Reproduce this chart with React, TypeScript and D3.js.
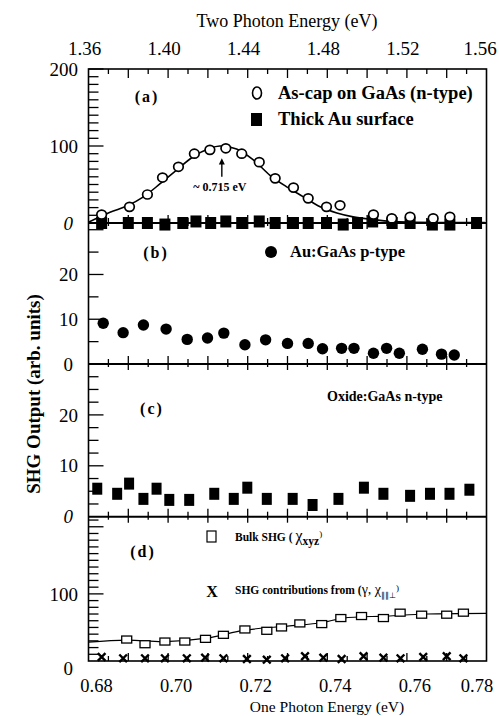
import React, { useEffect, useRef } from "react";
import * as d3 from "d3";

// panel (a): As-cap on GaAs (n-type), open circles + fit
const asCapX = [0.6833, 0.6903, 0.6948, 0.6986, 0.7026, 0.7066, 0.7105, 0.7145, 0.7185, 0.7229, 0.7269, 0.7315, 0.7352, 0.7398, 0.7432, 0.7516, 0.7562, 0.7608, 0.7666, 0.7708];
const asCapY = [11, 21, 37, 59, 73, 90, 95, 97, 90, 79, 58, 46, 32, 21, 23, 11, 6, 8, 6, 8];
const asCapFitX = [0.68, 0.6854, 0.6896, 0.6938, 0.698, 0.7022, 0.7063, 0.7105, 0.713, 0.7172, 0.7214, 0.7256, 0.7298, 0.734, 0.7382, 0.7424, 0.7465, 0.7507, 0.7566, 0.7796];
const asCapFitY = [1, 14, 22, 34, 51, 69, 86, 97, 100, 96, 82, 62, 47, 34, 21, 13, 8, 5, 2, 0.5];
// panel (a): thick Au surface, filled squares
const auThickX = [0.6833, 0.69, 0.6948, 0.6992, 0.7037, 0.707, 0.7107, 0.7145, 0.7185, 0.7229, 0.7269, 0.7315, 0.7352, 0.7398, 0.744, 0.7476, 0.7514, 0.7563, 0.7608, 0.7664, 0.7708, 0.7775];
const auThickY = [0, 0, 0, -2, 0, 2, 0, 2, 0, 2, 0, 0, 0, 0, -2, 0, 2, 0, 0, -2, -2, 0];

// panel (b): Au:GaAs p-type
const auGaAsX = [0.6837, 0.6887, 0.6938, 0.6995, 0.7048, 0.7099, 0.714, 0.7193, 0.7245, 0.73, 0.7352, 0.7388, 0.7436, 0.7467, 0.7516, 0.7549, 0.7581, 0.7639, 0.7687, 0.7719];
const auGaAsY = [9.1, 7.0, 8.7, 7.8, 5.5, 5.8, 6.9, 4.3, 5.4, 4.6, 4.6, 3.4, 3.5, 3.5, 2.4, 3.5, 2.4, 3.3, 2.2, 2.0];

// panel (c): Oxide:GaAs n-type
const oxideX = [0.6822, 0.6872, 0.6902, 0.6938, 0.6971, 0.7003, 0.7053, 0.7116, 0.7165, 0.7199, 0.7248, 0.7313, 0.7363, 0.7428, 0.7492, 0.7541, 0.7608, 0.7658, 0.7707, 0.7757];
const oxideY = [5.5, 4.5, 6.5, 3.5, 5.5, 3.3, 3.3, 4.5, 3.5, 5.7, 3.5, 3.5, 2.3, 3.5, 5.7, 4.5, 4.1, 4.5, 4.5, 5.3];

// panel (d): bulk SHG (open squares + fit) and surface contributions (crosses)
const bulkX = [0.6896, 0.6942, 0.6992, 0.7042, 0.7094, 0.7139, 0.7193, 0.7248, 0.7285, 0.7331, 0.7386, 0.7434, 0.7486, 0.7541, 0.7583, 0.7637, 0.77, 0.7742];
const bulkY = [32, 25, 29, 29, 33, 39, 47, 45, 50, 56, 55, 64, 67, 64, 72, 69, 69, 72];
const bulkFitX = [0.68, 0.6896, 0.6992, 0.7097, 0.7193, 0.73, 0.7386, 0.744, 0.755, 0.765, 0.78];
const bulkFitY = [28, 31, 29, 34, 46, 52, 57, 64, 67, 70, 71];
const contribX = [0.6833, 0.6887, 0.6942, 0.6992, 0.7047, 0.7093, 0.7139, 0.7198, 0.7248, 0.7294, 0.7344, 0.739, 0.7436, 0.7491, 0.7541, 0.7584, 0.7641, 0.77, 0.7742];
const contribY = [6, 4, 4, 4, 4, 5, 4, 3, 2, 4, 7, 5, 3, 7, 5, 4, 6, 7, 4];

// axes
const oneTicks = [0.68, 0.7, 0.72, 0.74, 0.76, 0.78];
const twoTicks = [1.36, 1.4, 1.44, 1.48, 1.52, 1.56];
const aLabels = [0, 100, 200];
const bLabels = [0, 10, 20];
const cLabels = [0, 10, 20];
const dLabels = [0, 100];

const W = 499;
const H = 716;
const FONT = "'Liberation Serif', 'Times New Roman', serif";

const App = () => {
  const ref = useRef<SVGSVGElement>(null);

  useEffect(() => {
    const svg = d3.select(ref.current);
    svg.selectAll("*").remove();

    const left = 88.5;
    const right = 486.5;
    const x = d3.scaleLinear().domain([0.68, 0.78]).range([left, right]);
    const x2 = d3.scaleLinear().domain([1.36, 1.56]).range([left, right]);

    const panels = [
      { y: d3.scaleLinear().domain([0, 200]).range([223, 69]), step: 10, major: 100, labels: aLabels, italic: true },
      { y: d3.scaleLinear().domain([0, 31.5]).range([364, 223]), step: 5, major: 10, labels: bLabels, italic: false },
      { y: d3.scaleLinear().domain([0, 30]).range([516.7, 364]), step: 2.5, major: 10, labels: cLabels, italic: true },
      { y: d3.scaleLinear().domain([0, 215]).range([661, 516.7]), step: 10, major: 100, labels: dLabels, italic: false },
    ];
    const top = 69;
    const bottom = 661;

    const g = svg.append("g").attr("font-family", FONT).attr("fill", "#000");

    // frame
    g.append("rect")
      .attr("x", left).attr("y", top)
      .attr("width", right - left).attr("height", bottom - top)
      .attr("fill", "none").attr("stroke", "#000").attr("stroke-width", 1.6);

    const xMinor = d3.range(0, 21).map((i) => 0.68 + i * 0.005);

    panels.forEach((p, pi) => {
      const [y0, y1] = p.y.range();
      if (pi > 0) {
        g.append("line").attr("x1", left).attr("x2", right).attr("y1", y1).attr("y2", y1)
          .attr("stroke", "#000").attr("stroke-width", 2);
      }
      // y ticks
      const d1 = p.y.domain()[1];
      const n = Math.floor(d1 / p.step + 1e-6);
      for (let i = 1; i <= n; i++) {
        const v = i * p.step;
        const isMajor = Math.abs(v / p.major - Math.round(v / p.major)) < 1e-6;
        g.append("line")
          .attr("x1", left).attr("x2", left + (isMajor ? 15 : 10))
          .attr("y1", p.y(v)).attr("y2", p.y(v))
          .attr("stroke", "#000").attr("stroke-width", 1.3);
      }
      // y labels
      p.labels.forEach((v) => {
        const ital = v === 0 && p.italic;
        g.append("text")
          .attr("x", v === 0 ? 73 : 78)
          .attr("y", p.y(v) + (v === 0 && pi === 3 ? 7 : 0))
          .attr("dy", "0.35em")
          .attr("text-anchor", "end")
          .attr("font-size", 19)
          .attr("font-style", ital ? "italic" : "normal")
          .text(v);
      });
      // x ticks across the lower edge of each panel
      xMinor.slice(1, -1).forEach((v, i) => {
        const isMajor = (i + 1) % 2 === 0;
        const up = isMajor ? 8 : 5;
        const down = pi === 3 ? 0 : isMajor ? 6 : 3;
        g.append("line")
          .attr("x1", x(v)).attr("x2", x(v))
          .attr("y1", y0 - up).attr("y2", y0 + down)
          .attr("stroke", "#000").attr("stroke-width", 1.3);
      });
    });

    // top x ticks
    xMinor.slice(1, -1).forEach((v, i) => {
      const isMajor = (i + 1) % 2 === 0;
      g.append("line")
        .attr("x1", x(v)).attr("x2", x(v))
        .attr("y1", top).attr("y2", top + (isMajor ? 9 : 5))
        .attr("stroke", "#000").attr("stroke-width", 1.3);
    });

    // bottom tick labels
    oneTicks.forEach((v) => {
      const px = Math.min(x(v) + 8, 477);
      g.append("text").attr("x", px).attr("y", 692)
        .attr("text-anchor", "middle").attr("font-size", 18.5).text(d3.format(".2f")(v));
    });
    // top tick labels
    twoTicks.forEach((v) => {
      const px = Math.min(x2(v) - 4, 480);
      g.append("text").attr("x", px).attr("y", 55)
        .attr("text-anchor", "middle").attr("font-size", 19).text(d3.format(".2f")(v));
    });

    g.append("text").attr("x", 287).attr("y", 27).attr("text-anchor", "middle")
      .attr("font-size", 18).text("Two Photon Energy (eV)");
    g.append("text").attr("x", 327).attr("y", 712).attr("text-anchor", "middle")
      .attr("font-size", 15.5).text("One Photon Energy (eV)");
    g.append("text")
      .attr("transform", "translate(40,394) rotate(-90)")
      .attr("text-anchor", "middle").attr("font-size", 19).attr("font-weight", "bold")
      .text("SHG Output (arb. units)");

    const [pa, pb, pc, pd] = panels;
    const line = d3.line<[number, number]>().curve(d3.curveCatmullRom.alpha(0.5));

    // ---- panel (a)
    g.append("path")
      .attr("d", line(asCapFitX.map((v, i) => [x(v), pa.y(asCapFitY[i])]))!)
      .attr("fill", "none").attr("stroke", "#000").attr("stroke-width", 1.6);
    g.append("line").attr("x1", left).attr("x2", right).attr("y1", pa.y(0)).attr("y2", pa.y(0))
      .attr("stroke", "#000").attr("stroke-width", 1.6);
    auThickX.forEach((v, i) => {
      g.append("rect").attr("x", x(v) - 5.5).attr("y", pa.y(auThickY[i]) - 6)
        .attr("width", 11).attr("height", 12).attr("fill", "#000");
    });
    asCapX.forEach((v, i) => {
      g.append("ellipse").attr("cx", x(v)).attr("cy", pa.y(asCapY[i]))
        .attr("rx", 4.8).attr("ry", 4.5)
        .attr("fill", "#fff").attr("stroke", "#000").attr("stroke-width", 1.7);
    });
    g.append("text").attr("x", 147).attr("y", 102).attr("text-anchor", "middle")
      .attr("font-size", 16).attr("letter-spacing", 2).attr("font-weight", "bold").text("(a)");
    g.append("ellipse").attr("cx", 257).attr("cy", 93).attr("rx", 4.5).attr("ry", 6)
      .attr("fill", "none").attr("stroke", "#000").attr("stroke-width", 1.6);
    g.append("text").attr("x", 278).attr("y", 99).attr("font-size", 18.5).attr("font-weight", "bold")
      .text("As-cap on GaAs (n-type)");
    g.append("rect").attr("x", 251).attr("y", 113).attr("width", 11).attr("height", 13).attr("fill", "#000");
    g.append("text").attr("x", 278).attr("y", 125).attr("font-size", 18.5).attr("font-weight", "bold")
      .text("Thick Au surface");
    // peak arrow
    const ax = x(0.7135);
    g.append("line").attr("x1", ax).attr("x2", ax).attr("y1", pa.y(60)).attr("y2", pa.y(80))
      .attr("stroke", "#000").attr("stroke-width", 1.4);
    g.append("path")
      .attr("d", `M${ax},${pa.y(84)} L${ax - 3},${pa.y(76)} L${ax + 3},${pa.y(76)} Z`)
      .attr("fill", "#000");
    g.append("text").attr("x", x(0.713)).attr("y", pa.y(41)).attr("text-anchor", "middle")
      .attr("font-size", 12).attr("font-weight", "bold").text("~ 0.715 eV");

    // ---- panel (b)
    auGaAsX.forEach((v, i) => {
      g.append("circle").attr("cx", x(v)).attr("cy", pb.y(auGaAsY[i])).attr("r", 5.7).attr("fill", "#000");
    });
    g.append("text").attr("x", 156).attr("y", 258).attr("text-anchor", "middle")
      .attr("font-size", 16).attr("letter-spacing", 2).attr("font-weight", "bold").text("(b)");
    g.append("circle").attr("cx", 271).attr("cy", 252).attr("r", 6).attr("fill", "#000");
    g.append("text").attr("x", 290).attr("y", 257).attr("font-size", 16.5).attr("font-weight", "bold")
      .text("Au:GaAs p-type");

    // ---- panel (c)
    oxideX.forEach((v, i) => {
      g.append("rect").attr("x", x(v) - 5).attr("y", pc.y(oxideY[i]) - 6)
        .attr("width", 10).attr("height", 12).attr("fill", "#000");
    });
    g.append("text").attr("x", 152).attr("y", 414).attr("text-anchor", "middle")
      .attr("font-size", 16).attr("letter-spacing", 2).attr("font-weight", "bold").text("(c)");
    g.append("text").attr("x", 327).attr("y", 401).attr("font-size", 14).attr("font-weight", "bold")
      .text("Oxide:GaAs n-type");

    // ---- panel (d)
    g.append("path")
      .attr("d", line(bulkFitX.map((v, i) => [x(v), pd.y(bulkFitY[i])]))!)
      .attr("fill", "none").attr("stroke", "#000").attr("stroke-width", 1.2);
    bulkX.forEach((v, i) => {
      g.append("rect").attr("x", x(v) - 5).attr("y", pd.y(bulkY[i]) - 3.5)
        .attr("width", 10).attr("height", 7)
        .attr("fill", "#fff").attr("stroke", "#000").attr("stroke-width", 1.3);
    });
    const cross = d3.symbol().type(d3.symbolX).size(40);
    contribX.forEach((v, i) => {
      g.append("path").attr("d", cross()!)
        .attr("transform", `translate(${x(v)},${pd.y(contribY[i])})`)
        .attr("fill", "none").attr("stroke", "#000").attr("stroke-width", 2.4);
    });
    g.append("text").attr("x", 143).attr("y", 557).attr("text-anchor", "middle")
      .attr("font-size", 16).attr("letter-spacing", 2).attr("font-weight", "bold").text("(d)");
    g.append("rect").attr("x", 207).attr("y", 531).attr("width", 9).attr("height", 11)
      .attr("fill", "none").attr("stroke", "#000").attr("stroke-width", 1.2);
    const t1 = g.append("text").attr("x", 235).attr("y", 541).attr("font-size", 11.5).attr("font-weight", "bold");
    t1.append("tspan").text("Bulk SHG  ( ");
    t1.append("tspan").attr("font-size", 16).attr("font-weight", "normal").text("χ");
    t1.append("tspan").attr("dy", 4).attr("font-size", 11.5).text("xyz");
    t1.append("tspan").attr("dy", -8).attr("font-size", 9).attr("font-weight", "normal").text(")");
    g.append("text").attr("x", 212).attr("y", 597).attr("text-anchor", "middle")
      .attr("font-size", 16).attr("font-weight", "bold").text("X");
    const t2 = g.append("text").attr("x", 235).attr("y", 594).attr("font-size", 11.5).attr("font-weight", "bold");
    t2.append("tspan").text("SHG contributions from (");
    t2.append("tspan").attr("font-size", 14).attr("font-weight", "normal").text("γ, χ");
    t2.append("tspan").attr("dy", 4).attr("font-size", 8).attr("font-weight", "normal").text("∥∥⊥");
    t2.append("tspan").attr("dy", -7).attr("font-size", 9).attr("font-weight", "normal").text(")");
  }, []);

  return (
    <svg
      ref={ref}
      width={W}
      height={H}
      style={{ position: "absolute", left: 0, top: 0, background: "#fff" }}
    ></svg>
  );
};

export default App;
